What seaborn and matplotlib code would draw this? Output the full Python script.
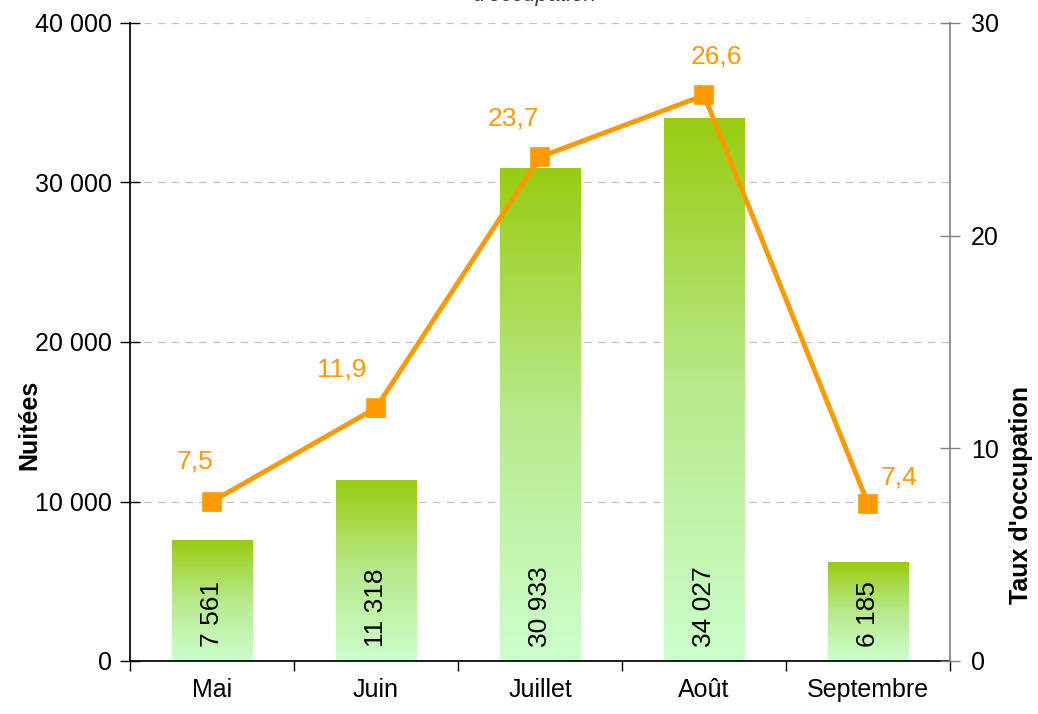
import numpy as np
import pandas as pd
import matplotlib
matplotlib.use("Agg")
import matplotlib.pyplot as plt
import seaborn as sns
from matplotlib.colors import LinearSegmentedColormap
from matplotlib.ticker import FuncFormatter

# data
mois = ["Mai", "Juin", "Juillet", "Août", "Septembre"]
nuitees = [7561, 11318, 30933, 34027, 6185]
taux = [7.5, 11.9, 23.7, 26.6, 7.4]

df = pd.DataFrame({"mois": mois, "nuitees": nuitees, "taux": taux})

sns.set_theme(style="white")
plt.rcParams["font.family"] = ["Liberation Sans", "DejaVu Sans"]
plt.rcParams["text.color"] = "black"
plt.rcParams["axes.labelcolor"] = "black"
plt.rcParams["xtick.labelcolor"] = "black"
plt.rcParams["ytick.labelcolor"] = "black"

fig = plt.figure(figsize=(10.38, 7.14), dpi=100)
ax = fig.add_axes([130 / 1038, 53 / 714, 820 / 1038, 638 / 714])

# bars
sns.barplot(data=df, x="mois", y="nuitees", ax=ax, width=0.49,
            color="#99cc11", saturation=1, zorder=2)

grad = LinearSegmentedColormap.from_list("g", ["#ccffcc", "#b8e98c", "#99cc11"])
g = np.linspace(0, 1, 256).reshape(-1, 1)
for bar in ax.patches:
    x0, y0 = bar.get_x(), bar.get_y()
    w, h = bar.get_width(), bar.get_height()
    im = ax.imshow(g, cmap=grad, origin="lower", aspect="auto",
                   extent=[x0, x0 + w, y0, y0 + h], zorder=2)
    im.set_clip_path(bar)
    bar.set_facecolor("none")
    bar.set_edgecolor("none")

for i, v in enumerate(nuitees):
    ax.text(i, 900, f"{v:,}".replace(",", " "), rotation=90, ha="center",
            va="bottom", fontsize=19, color="black", zorder=4)

ax.set_xlim(-0.5, 4.5)
ax.set_ylim(0, 40000)
ax.set_yticks([0, 10000, 20000, 30000, 40000])
ax.yaxis.set_major_formatter(FuncFormatter(lambda v, p: f"{int(v):,}".replace(",", " ")))
ax.yaxis.grid(True, linestyle=(0, (6, 5)), color="#c0c0c0", linewidth=0.9)
ax.set_axisbelow(True)
ax.set_xlabel("")
ax.set_ylabel("Nuitées", fontsize=18, fontweight="bold")
ax.yaxis.set_label_coords(-0.108, 0.37)
ax.tick_params(axis="y", direction="inout", length=14, width=1, labelsize=18,
               color="black", left=True, pad=6)
ax.tick_params(axis="x", length=0, labelsize=18, pad=12)
ax.set_xticks(range(5))
ax.set_xticks(np.arange(-0.5, 5, 1), minor=True)
ax.tick_params(axis="x", which="minor", direction="out", length=7, width=1,
               color="black", bottom=True)
for s in ["top", "right"]:
    ax.spines[s].set_visible(False)
ax.spines["left"].set_color("black")
ax.spines["bottom"].set_color("black")

# line on second axis
ax2 = ax.twinx()
sns.pointplot(data=df, x="mois", y="taux", ax=ax2, color="#ff9900",
              markers="s", markersize=11, linewidth=3.5)
ax2.set_xlim(-0.5, 4.5)
ax2.set_ylim(0, 30)
ax2.set_yticks([0, 10, 20, 30])
ax2.set_ylabel("Taux d'occupation", fontsize=18, fontweight="bold", rotation=90)
ax2.yaxis.set_label_coords(1.072, 0.26)
ax2.tick_params(axis="y", direction="inout", length=14, width=1, labelsize=18,
                color="#808080", right=True, pad=8)
for s in ["top", "left", "bottom"]:
    ax2.spines[s].set_visible(False)
ax2.spines["right"].set_color("#808080")
ax2.spines["right"].set_linewidth(1.2)
ax2.set_xlabel("")

offsets = [(-12, 29), (-25, 28), (-19, 28), (9, 28), (22, 19)]
for i, (v, off) in enumerate(zip(taux, offsets)):
    ax2.annotate(f"{v}".replace(".", ","), (i, v), xytext=off,
                 textcoords="offset points", ha="center", va="center",
                 fontsize=19, color="#ff9900")

fig.text(0.515, 1.006, "d'occupation", ha="center", va="center",
         fontsize=16, style="italic", color="#404040")

fig.savefig("out.png", dpi=100)
